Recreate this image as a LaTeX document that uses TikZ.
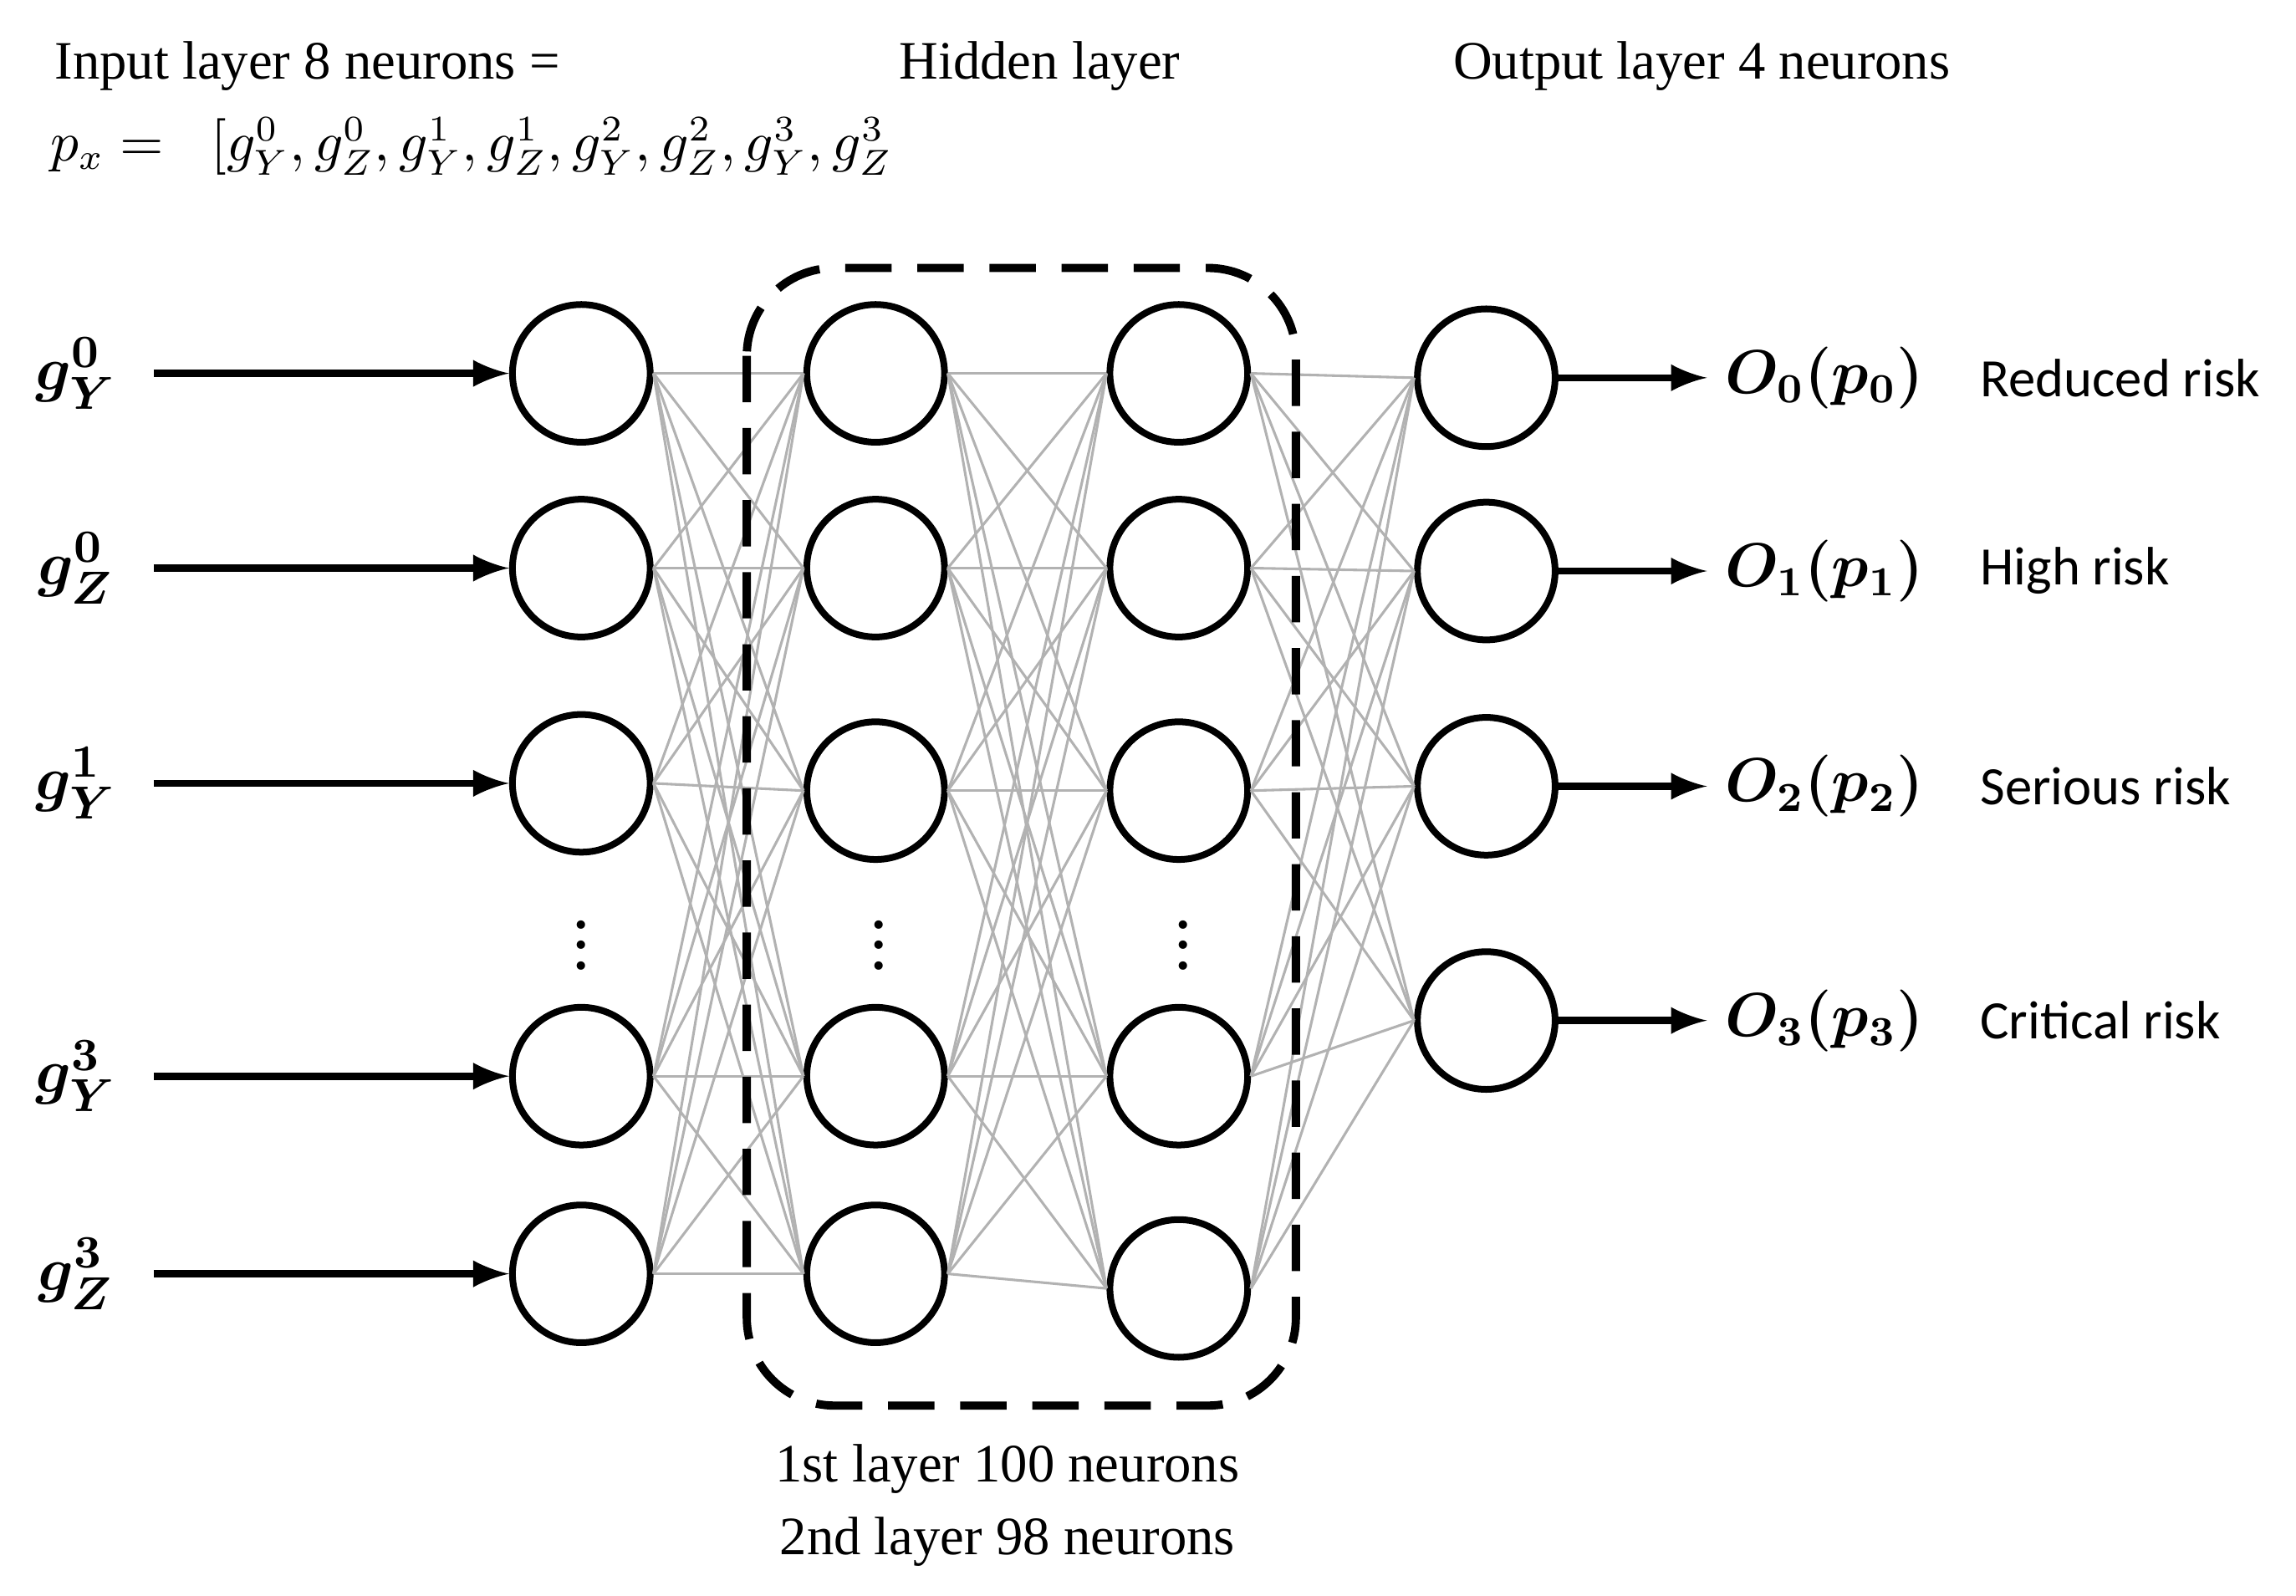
\documentclass[tikz,border=0pt]{standalone}
\usepackage{amsmath,bm}
\usepackage{fontspec}
\setmainfont{Liberation Serif}
\newfontfamily\carlitofont{Carlito}
\begin{document}
\begin{tikzpicture}[x=0.01cm,y=-0.01cm,
 neuron/.style={circle,draw,line width=1.3pt,minimum size=0.94cm,inner sep=0pt},
 conn/.style={gray!60,line width=0.5pt},
 arr/.style={-latex,line width=1.4pt},
 ttl/.style={font=\fontsize{10.5}{12}\selectfont},
 risk/.style={font=\carlitofont\fontsize{10.5}{12}\selectfont,anchor=west},
 gl/.style={font=\fontsize{13}{15}\selectfont},
 ol/.style={font=\fontsize{12}{14}\selectfont}]
\useasboundingbox (0,0) rectangle (1568,1090);
\foreach \i/\y in {1/255,2/388,3/535,4/735,5/870} \node[neuron] (a\i) at (397,\y) {};
\foreach \i/\y in {1/255,2/388,3/540,4/735,5/870} \node[neuron] (b\i) at (598,\y) {};
\foreach \i/\y in {1/255,2/388,3/540,4/735,5/880} \node[neuron] (c\i) at (805,\y) {};
\foreach \i/\y in {1/258,2/390,3/537,4/697} \node[neuron] (d\i) at (1015,\y) {};
\foreach \i in {1,...,5}{\foreach \j in {1,...,5}{
 \draw[conn] (a\i.east) -- (b\j.west); \draw[conn] (b\i.east) -- (c\j.west);}
 \foreach \j in {1,...,4} \draw[conn] (c\i.east) -- (d\j.west);}
\foreach \x/\n in {397/1,600/2,808/3} \node[inner sep=0pt] (dots\n) at (\x,635) {$\bm{\vdots}$};
\draw[dash pattern=on 9pt off 5pt,line width=1.6pt,rounded corners=0.6cm] (510,183) rectangle (885,960);
\foreach \i/\y/\s in {1/255/{Y}^{0},2/388/{Z}^{0},3/535/{Y}^{1},4/735/{Y}^{3},5/870/{Z}^{3}}{
 \node[gl] (g\i) at (52,\y) {$\bm{g_\s}$};
 \coordinate (s\i) at (105,\y);
 \draw[arr] (s\i) -- (a\i.west);}
\foreach \i/\y/\k/\t in {1/258/0/Reduced risk,2/390/1/High risk,3/537/2/Serious risk,4/697/3/Critical risk}{
 \node[ol] (o\i) at (1246,\y) {$\bm{O_\k(p_\k)}$};
 \draw[arr] (d\i.east) -- (o\i.west);
 \node[risk] (r\i) at (1340,\y) {\t};}
\node[ttl,anchor=west] (t1) at (25,45) {Input layer 8 neurons =};
\node[ttl,anchor=west] (t2) at (22,100) {$p_x=\;\;[g_Y^0,g_Z^0,g_Y^1,g_Z^1,g_Y^2,g_Z^2,g_Y^3,g_Z^3$};
\node[ttl] (t3) at (710,45) {Hidden layer};
\node[ttl,anchor=west] (t4) at (980,45) {Output layer 4 neurons};
\node[ttl] (t5) at (688,1003) {1st layer 100 neurons};
\node[ttl] (t6) at (688,1053) {2nd layer 98 neurons};
\end{tikzpicture}
\end{document}
